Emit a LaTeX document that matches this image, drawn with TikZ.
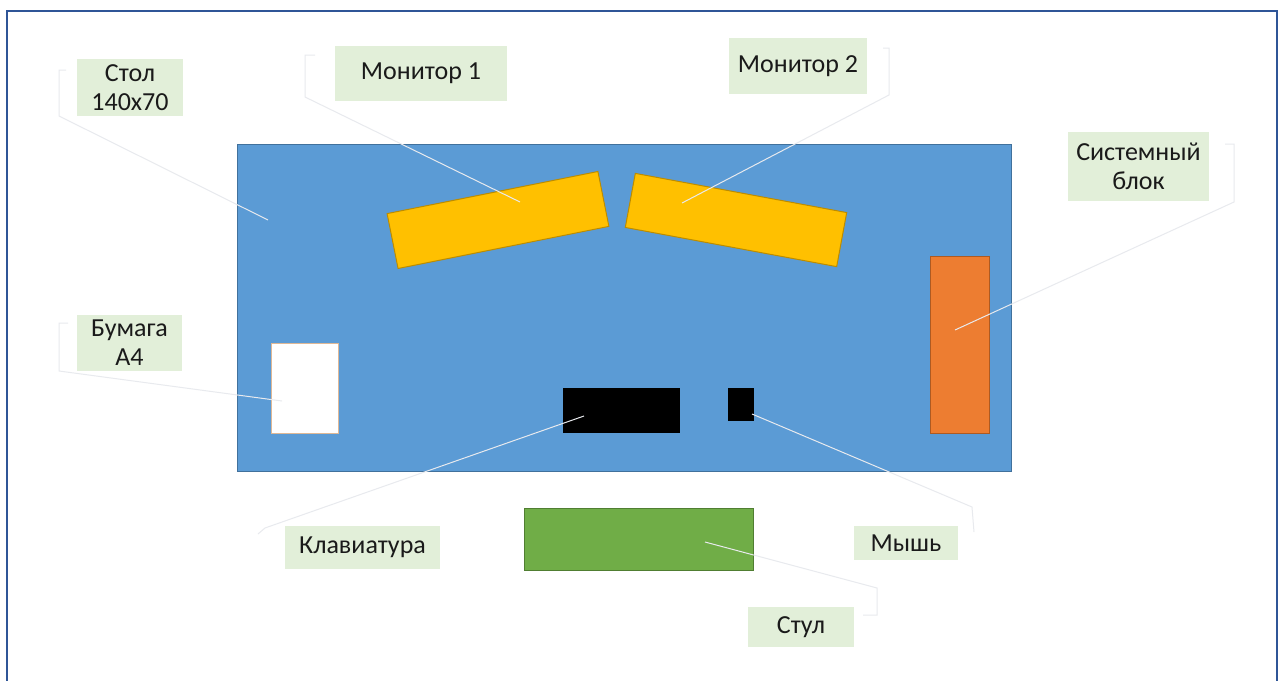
\documentclass[tikz,border=0pt]{standalone}
\usepackage{fontspec}
\setmainfont{Carlito}
\usepackage{xcolor}
\usetikzlibrary{shapes.geometric, positioning, calc}
\definecolor{frameblue}{RGB}{47, 85, 151}
\definecolor{deskblue}{RGB}{91, 155, 213}
\definecolor{deskedge}{RGB}{65, 113, 156}
\definecolor{monitorgold}{RGB}{255, 192, 0}
\definecolor{monitoredge}{RGB}{188, 140, 0}
\definecolor{caseorange}{RGB}{237, 125, 49}
\definecolor{caseedge}{RGB}{174, 90, 33}
\definecolor{chairgreen}{RGB}{112, 173, 71}
\definecolor{chairedge}{RGB}{80, 126, 50}
\definecolor{paperedge}{RGB}{222, 184, 150}
\definecolor{labelgreen}{RGB}{226, 239, 217}
\definecolor{labeltext}{RGB}{26, 26, 26}
\definecolor{leadergray}{RGB}{232, 234, 238}
\tikzstyle{item} = [rectangle, inner sep=0pt, outer sep=0pt, line width=0.5pt]
\tikzstyle{callout} = [rectangle, inner sep=0pt, fill=labelgreen, text=labeltext, align=center, font=\fontsize{13}{14.5}\selectfont]
\tikzstyle{leader} = [line width=0.5pt, draw=leadergray]

\begin{document}
\begin{tikzpicture}[x=0.5pt, y=-0.5pt]
\useasboundingbox (0,0) rectangle (1282,681);
\fill[white] (0,0) rectangle (1282,681);
\draw[line width=1.25pt, frameblue] (7,11) rectangle (1277,700);

% Desk and furniture
\node (desk) [item, fill=deskblue, draw=deskedge, minimum width=387pt, minimum height=163.5pt] at (624,307.5) {};
\node (monitor1) [item, fill=monitorgold, draw=monitoredge, minimum width=107.5pt, minimum height=28pt, rotate=11.3] at (498,220) {};
\node (monitor2) [item, fill=monitorgold, draw=monitoredge, minimum width=107.5pt, minimum height=27.5pt, rotate=-10.5] at (736,220) {};
\node (sysunit) [item, fill=caseorange, draw=caseedge, minimum width=29.5pt, minimum height=88.5pt] at (959.5,344.5) {};
\node (paper) [item, fill=white, draw=paperedge, minimum width=33.5pt, minimum height=45pt] at (304.5,388) {};
\node (keyboard) [item, fill=black, draw=black, minimum width=58pt, minimum height=22pt] at (621,410) {};
\node (mouse) [item, fill=black, draw=black, minimum width=12.5pt, minimum height=16pt] at (740.5,404) {};
\node (chair) [item, fill=chairgreen, draw=chairedge, minimum width=114.5pt, minimum height=31pt] at (638.5,539) {};

% Callout labels
\node (lbl_desk) [callout, minimum width=53pt, minimum height=28.5pt] at (130,87.5) {Стол\\140x70};
\node (lbl_mon1) [callout, minimum width=86pt, minimum height=27.5pt] at (421,73.5) {Монитор 1};
\node (lbl_mon2) [callout, minimum width=69pt, minimum height=28pt] at (798,66) {Монитор 2};
\node (lbl_sys) [callout, minimum width=70.5pt, minimum height=34.5pt] at (1138.5,166.5) {Системный\\блок};
\node (lbl_paper) [callout, minimum width=52.5pt, minimum height=28pt] at (129.5,343) {Бумага\\А4};
\node (lbl_kbd) [callout, minimum width=77.5pt, minimum height=21.5pt] at (362.5,547.5) {Клавиатура};
\node (lbl_mouse) [callout, minimum width=52pt, minimum height=17pt] at (906,543) {Мышь};
\node (lbl_chair) [callout, minimum width=53pt, minimum height=20pt] at (801,627) {Стул};

% Leader points
\coordinate (desk_pt) at (268,220);
\coordinate (desk_top) at (59,70);
\coordinate (desk_bot) at (59,116);
\coordinate (mon1_pt) at (520,202);
\coordinate (mon1_top) at (305,55);
\coordinate (mon1_bot) at (305,97);
\coordinate (mon2_pt) at (682,203);
\coordinate (mon2_top) at (889,48);
\coordinate (mon2_bot) at (889,95);
\coordinate (sys_pt) at (955,330);
\coordinate (sys_top) at (1234,144);
\coordinate (sys_bot) at (1234,202);
\coordinate (paper_pt) at (282,401);
\coordinate (paper_top) at (59,323);
\coordinate (paper_bot) at (59,371);
\coordinate (kbd_pt) at (584,416);
\coordinate (kbd_bend) at (265,528);
\coordinate (kbd_end) at (258,534);
\coordinate (mouse_pt) at (752,414);
\coordinate (mouse_bend) at (972,507);
\coordinate (mouse_end) at (974,532);
\coordinate (chair_pt) at (705,542);
\coordinate (chair_bend) at (877,588);
\coordinate (chair_end) at (877,615);

% Leader lines
\draw [leader] ($(desk_top)+(7,0)$) -- (desk_top) -- (desk_bot) -- (desk_pt);
\draw [leader] ($(mon1_top)+(10,0)$) -- (mon1_top) -- (mon1_bot) -- (mon1_pt);
\draw [leader] ($(mon2_top)+(-6,0)$) -- (mon2_top) -- (mon2_bot) -- (mon2_pt);
\draw [leader] ($(sys_top)+(-9,0)$) -- (sys_top) -- (sys_bot) -- (sys_pt);
\draw [leader] ($(paper_top)+(9,0)$) -- (paper_top) -- (paper_bot) -- (paper_pt);
\draw [leader] (kbd_end) -- (kbd_bend) -- (kbd_pt);
\draw [leader] (mouse_pt) -- (mouse_bend) -- (mouse_end);
\draw [leader] (chair_pt) -- (chair_bend) -- (chair_end) -- ($(chair_end)+(-14,0)$);

\end{tikzpicture}
\end{document}
